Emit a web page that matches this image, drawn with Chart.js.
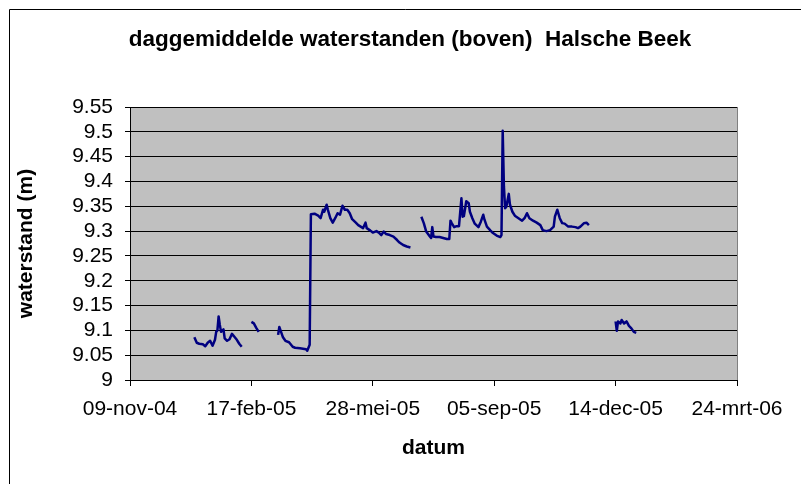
<!DOCTYPE html>
<html>
<head>
<meta charset="utf-8">
<script src="https://cdn.jsdelivr.net/npm/chart.js@4"></script>
<style>
  body { margin: 0; background: #fff; }
  #wrap { width: 801px; height: 484px; }
</style>
</head>
<body>
<div id="wrap"><canvas id="chart" width="801" height="484"></canvas></div>
<script>
const chartTitle = 'daggemiddelde waterstanden (boven)  Halsche Beek';
const xTitle = 'datum';
const yTitle = 'waterstand (m)';
const monthNames = ['jan', 'feb', 'mrt', 'apr', 'mei', 'jun', 'jul', 'aug', 'sep', 'okt', 'nov', 'dec'];
const startDate = '2004-11-09';   // first tick label
const dayStep = 100;              // days between x tick labels
const dayMax = 500;
const yTicks = [9, 9.05, 9.1, 9.15, 9.2, 9.25, 9.3, 9.35, 9.4, 9.45, 9.5, 9.55];

// null = no measurement (break in the line)
const dates = [
  '2005-01-01', '2005-01-03', '2005-01-05', '2005-01-08', '2005-01-10', '2005-01-12', '2005-01-14',
  '2005-01-16', '2005-01-18', '2005-01-19', '2005-01-20', '2005-01-21', '2005-01-22', '2005-01-23',
  '2005-01-25', '2005-01-26', '2005-01-28', '2005-01-30', '2005-02-01', '2005-02-03', '2005-02-05',
  '2005-02-07', '2005-02-09', '2005-02-13',
  '2005-02-17', '2005-02-19', '2005-02-21', '2005-02-23', '2005-03-05',
  '2005-03-11', '2005-03-12', '2005-03-15', '2005-03-17', '2005-03-20', '2005-03-23', '2005-03-25',
  '2005-03-29', '2005-04-03', '2005-04-04', '2005-04-06', '2005-04-07', '2005-04-10', '2005-04-13',
  '2005-04-15', '2005-04-17', '2005-04-18', '2005-04-20', '2005-04-21', '2005-04-23', '2005-04-25',
  '2005-04-27', '2005-04-29', '2005-05-01', '2005-05-03', '2005-05-05', '2005-05-07', '2005-05-09',
  '2005-05-11', '2005-05-14', '2005-05-16', '2005-05-18', '2005-05-20', '2005-05-22', '2005-05-23',
  '2005-05-26', '2005-05-28', '2005-05-31', '2005-06-02', '2005-06-04', '2005-06-06', '2005-06-08',
  '2005-06-11', '2005-06-14', '2005-06-17', '2005-06-19', '2005-06-22', '2005-06-25', '2005-06-28',
  '2005-07-03',
  '2005-07-07', '2005-07-09', '2005-07-11', '2005-07-14', '2005-07-15', '2005-07-16', '2005-07-17',
  '2005-07-19', '2005-07-22', '2005-07-25', '2005-07-28', '2005-07-30', '2005-07-31', '2005-08-01',
  '2005-08-03', '2005-08-05', '2005-08-07', '2005-08-09', '2005-08-10', '2005-08-11', '2005-08-13',
  '2005-08-15', '2005-08-16', '2005-08-18', '2005-08-20', '2005-08-23', '2005-08-25', '2005-08-27',
  '2005-08-28', '2005-08-30', '2005-09-02', '2005-09-04', '2005-09-07', '2005-09-10', '2005-09-11',
  '2005-09-12', '2005-09-13', '2005-09-14', '2005-09-15', '2005-09-17', '2005-09-18', '2005-09-20',
  '2005-09-22', '2005-09-25', '2005-09-28', '2005-09-30', '2005-10-02', '2005-10-04', '2005-10-07',
  '2005-10-10', '2005-10-13', '2005-10-15', '2005-10-18', '2005-10-21', '2005-10-24', '2005-10-25',
  '2005-10-27', '2005-10-29', '2005-10-31', '2005-11-02', '2005-11-05', '2005-11-08', '2005-11-11',
  '2005-11-13', '2005-11-15', '2005-11-18', '2005-11-20', '2005-11-22', '2005-12-01',
  '2005-12-14', '2005-12-15', '2005-12-16', '2005-12-18', '2005-12-19', '2005-12-21', '2005-12-23',
  '2005-12-25', '2005-12-27', '2005-12-29', '2005-12-31'
];
const levels = [
  9.086, 9.075, 9.073, 9.072, 9.068, 9.075, 9.079,
  9.069, 9.081, 9.097, 9.100, 9.128, 9.111, 9.097,
  9.102, 9.084, 9.079, 9.082, 9.093, 9.087, 9.081,
  9.073, 9.067, null,
  9.117, 9.114, 9.105, 9.097, null,
  9.091, 9.107, 9.086, 9.079, 9.076, 9.067, 9.065,
  9.064, 9.062, 9.059, 9.071, 9.334, 9.335, 9.331,
  9.326, 9.343, 9.339, 9.353, 9.343, 9.326, 9.317,
  9.326, 9.336, 9.333, 9.351, 9.343, 9.343, 9.336,
  9.324, 9.317, 9.312, 9.309, 9.306, 9.317, 9.306,
  9.301, 9.297, 9.300, 9.297, 9.292, 9.299, 9.294,
  9.292, 9.289, 9.282, 9.277, 9.272, 9.269, 9.267,
  null,
  9.329, 9.316, 9.299, 9.289, 9.286, 9.308, 9.289,
  9.288, 9.288, 9.286, 9.284, 9.284, 9.321, 9.316,
  9.308, 9.310, 9.310, 9.366, 9.329, 9.330, 9.360,
  9.356, 9.339, 9.326, 9.315, 9.308, 9.319, 9.333,
  9.323, 9.309, 9.301, 9.296, 9.291, 9.288, 9.292,
  9.502, 9.390, 9.346, 9.349, 9.375, 9.353, 9.339,
  9.331, 9.326, 9.321, 9.326, 9.336, 9.326, 9.321,
  9.317, 9.312, 9.302, 9.300, 9.302, 9.309, 9.329,
  9.343, 9.326, 9.316, 9.315, 9.309, 9.309, 9.308,
  9.306, 9.309, 9.316, 9.317, 9.312, null,
  9.118, 9.099, 9.118, 9.114, 9.121, 9.114, 9.118,
  9.109, 9.104, 9.097, 9.095
];

const DAY = 86400000;
function toUTC(s) {
  const p = s.split('-').map(Number);
  return Date.UTC(p[0], p[1] - 1, p[2]);
}
const t0 = toUTC(startDate);
function dayLabel(v) {
  const d = new Date(t0 + v * DAY);
  const dd = String(d.getUTCDate()).padStart(2, '0');
  const yy = String(d.getUTCFullYear() % 100).padStart(2, '0');
  return dd + '-' + monthNames[d.getUTCMonth()] + '-' + yy;
}

const points = dates.map((s, i) => ({ x: Math.round((toUTC(s) - t0) / DAY), y: levels[i] }));

// grey plot area, outer frame and the chart title
const excelLook = {
  id: 'excelLook',
  beforeDraw(chart) {
    const { ctx, chartArea: a } = chart;
    ctx.save();
    ctx.fillStyle = '#c0c0c0';
    ctx.fillRect(a.left, a.top, a.right - a.left, a.bottom - a.top);
    ctx.strokeStyle = '#000';
    ctx.lineWidth = 1;
    ctx.beginPath();
    ctx.moveTo(9.5, 484);
    ctx.lineTo(9.5, 9.5);
    ctx.lineTo(801, 9.5);
    ctx.stroke();
    ctx.restore();
  },
  afterDraw(chart) {
    const { ctx, chartArea: a } = chart;
    ctx.save();
    ctx.strokeStyle = '#808080';
    ctx.lineWidth = 1;
    ctx.beginPath();
    ctx.moveTo(Math.round(a.right) + 0.5, a.top);
    ctx.lineTo(Math.round(a.right) + 0.5, a.bottom);
    ctx.stroke();
    ctx.fillStyle = '#000';
    ctx.font = "bold 22.5px 'Liberation Sans', Arial, sans-serif";
    ctx.textAlign = 'center';
    ctx.textBaseline = 'middle';
    ctx.fillText(chartTitle, 410, 40);
    ctx.restore();
  }
};

Chart.defaults.font.family = "'Liberation Sans', Arial, sans-serif";
Chart.defaults.color = '#000';

new Chart(document.getElementById('chart'), {
  type: 'line',
  data: {
    datasets: [{
      data: points,
      borderColor: '#000080',
      borderWidth: 2.5,
      pointRadius: 0,
      tension: 0,
      spanGaps: false,
      borderJoinStyle: 'round'
    }]
  },
  options: {
    responsive: false,
    animation: false,
    devicePixelRatio: 1,
    layout: { padding: { top: 107, right: 64, left: 0, bottom: 0 } },
    plugins: {
      legend: { display: false },
      tooltip: { enabled: false },
      title: { display: false }
    },
    scales: {
      x: {
        type: 'linear',
        min: 0,
        max: dayMax,
        afterFit(scale) { scale.height = 104; },
        border: { color: '#000', width: 1 },
        grid: { drawOnChartArea: false, drawTicks: true, tickLength: 6, tickColor: '#000' },
        ticks: {
          stepSize: dayStep,
          autoSkip: false,
          maxRotation: 0,
          padding: 11,
          font: { size: 21 },
          callback: (v) => dayLabel(v)
        },
        title: { display: true, text: xTitle, font: { size: 21, weight: 'bold' }, padding: { top: 0, bottom: 23 } }
      },
      y: {
        min: yTicks[0],
        max: yTicks[yTicks.length - 1],
        afterFit(scale) { scale.width = 130; },
        afterBuildTicks(scale) { scale.ticks = yTicks.map(v => ({ value: v })); },
        border: { color: '#000', width: 1 },
        grid: { color: '#000', lineWidth: 1, tickLength: 5, tickColor: '#000' },
        ticks: {
          autoSkip: false,
          padding: 12,
          font: { size: 21 },
          callback: (v) => String(Math.round(v * 100) / 100)
        },
        title: { display: true, text: yTitle, font: { size: 21, weight: 'bold' }, padding: { top: 14, bottom: 0 } }
      }
    }
  },
  plugins: [excelLook]
});
</script>
</body>
</html>
